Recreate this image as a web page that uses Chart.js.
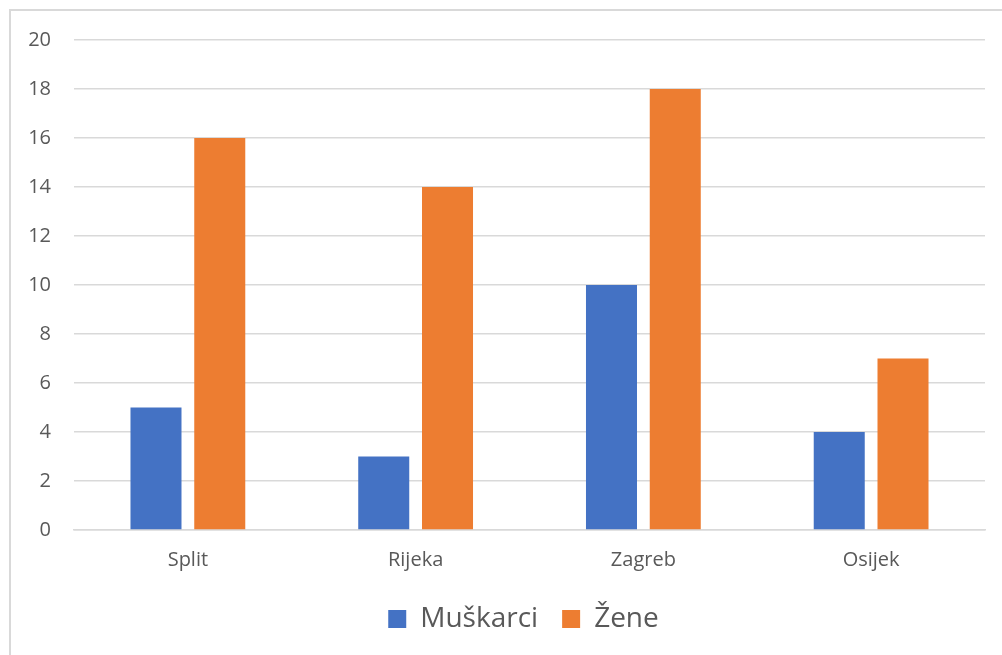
<!DOCTYPE html>
<html>
<head>
<meta charset="utf-8">
<script src="https://cdn.jsdelivr.net/npm/chart.js@4.4.0/dist/chart.umd.min.js"></script>
<style>
  body { margin: 0; background: #fff; }
  #wrap { position: relative; width: 1002px; height: 655px; }
</style>
</head>
<body>
<div id="wrap"><canvas id="myChart" width="1002" height="655"></canvas></div>
<script>
const cities = ["Split", "Rijeka", "Zagreb", "Osijek"];
const muskarci = [5, 3, 10, 4];
const zene = [16, 14, 18, 7];
const y_ticks = [0, 2, 4, 6, 8, 10, 12, 14, 16, 18, 20];

const TEXT_COLOR = "#595959";
const GRID_COLOR = "#d9d9d9";

// okvir grafikona (samo lijevo i gore, kao na slici)
const framePlugin = {
  id: "frame",
  beforeDraw(chart) {
    const ctx = chart.ctx;
    ctx.save();
    ctx.strokeStyle = GRID_COLOR;
    ctx.lineWidth = 2;
    ctx.beginPath();
    ctx.moveTo(10, 655);
    ctx.lineTo(10, 10);
    ctx.lineTo(1002, 10);
    ctx.stroke();
    ctx.restore();
  }
};

// legenda je na slici malo pomaknuta udesno (centrirana ispod područja crtanja)
const legendShift = {
  id: "legendShift",
  afterLayout(chart) {
    if (chart.legend) {
      chart.legend.left += 31;
      chart.legend.right += 31;
    }
  }
};

var ctx = document.getElementById('myChart').getContext('2d');
var myChart = new Chart(ctx, {
  type: 'bar',
  data: {
    labels: cities,
    datasets: [
      {
        label: "Muškarci",
        data: muskarci,
        backgroundColor: "#4472C4",
        categoryPercentage: 0.56,
        barPercentage: 0.8
      },
      {
        label: "Žene",
        data: zene,
        backgroundColor: "#ED7D31",
        categoryPercentage: 0.56,
        barPercentage: 0.8
      }
    ]
  },
  options: {
    responsive: false,
    animation: false,
    devicePixelRatio: 1,
    layout: { padding: { top: 40, right: 17, bottom: 12, left: 0 } },
    plugins: {
      tooltip: { enabled: false },
      legend: {
        position: 'bottom',
        labels: {
          boxWidth: 18,
          boxHeight: 18,
          padding: 24,
          color: TEXT_COLOR,
          font: { family: "'Open Sans', sans-serif", size: 28 }
        }
      }
    },
    scales: {
      x: {
        afterFit: (scale) => { scale.height = 51; },
        grid: { display: false, drawTicks: false },
        border: { display: true, color: GRID_COLOR, width: 1.5 },
        ticks: {
          color: TEXT_COLOR,
          padding: 18,
          maxRotation: 0,
          font: { family: "'Open Sans', sans-serif", size: 20 }
        }
      },
      y: {
        min: 0,
        max: 20,
        afterBuildTicks: (scale) => { scale.ticks = y_ticks.map(v => ({ value: v })); },
        afterFit: (scale) => { scale.width = 74; },
        grid: { color: GRID_COLOR, lineWidth: 1.5, drawTicks: false },
        border: { display: false },
        ticks: {
          color: TEXT_COLOR,
          padding: 23,
          font: { family: "'Open Sans', sans-serif", size: 20 }
        }
      }
    }
  },
  plugins: [framePlugin, legendShift]
});
</script>
</body>
</html>
